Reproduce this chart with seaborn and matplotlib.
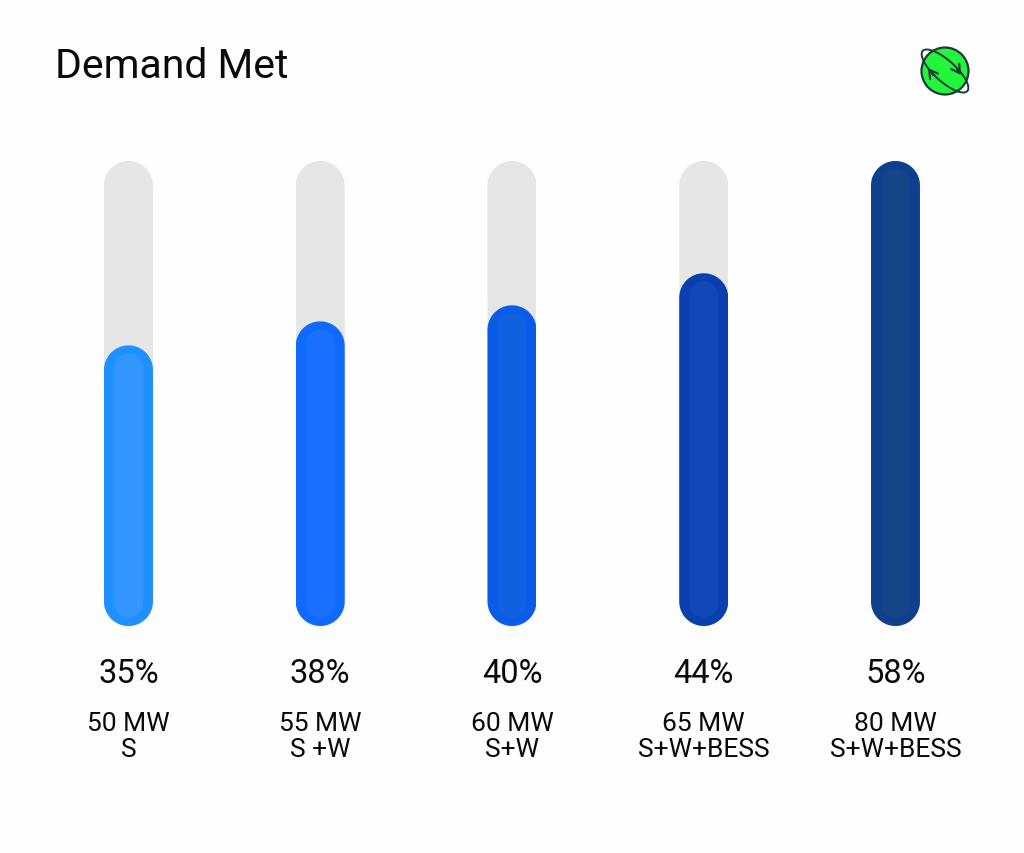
import numpy as np
import pandas as pd
import matplotlib
matplotlib.use("Agg")
import matplotlib.pyplot as plt
from matplotlib.patches import Circle, Ellipse, Polygon
import seaborn as sns

capacity = ["50 MW", "55 MW", "60 MW", "65 MW", "80 MW"]
sources = ["S", "S +W", "S+W", "S+W+BESS", "S+W+BESS"]
demand_met = [35, 38, 40, 44, 58]
track_max = 58

edge_colors = ["#1E90FF", "#0F6BFF", "#0A5CE8", "#0A3FB0", "#0F3F8F"]
fill_colors = ["#3396FF", "#1A70FF", "#1060E0", "#1048B8", "#164488"]

labels = [f"{c}\n{s}" for c, s in zip(capacity, sources)]
df = pd.DataFrame({"label": labels, "met": demand_met})

sns.set_style("white")
plt.rcParams["font.family"] = ["Roboto", "DejaVu Sans"]

W, H = 1024, 854
fig = plt.figure(figsize=(W / 100, H / 100), dpi=100, facecolor="#FEFEFE")
# one category = 191.75 px, track runs from y=161 to y=626
ax = fig.add_axes([32.6 / W, (H - 627) / H, 958.75 / W, 465 / H], facecolor="none")

BAR_W = 49 / 191.75
sns.barplot(x=labels, y=[track_max] * 5, color="#E6E6E6", saturation=1, width=BAR_W, ax=ax)
n_track = len(ax.patches)
sns.barplot(data=df, x="label", y="met", hue="label", palette=edge_colors, saturation=1,
            width=BAR_W, legend=False, ax=ax)

ax.set_xlim(-0.5, 4.5)
ax.set_ylim(0, track_max)
ax.set_xlabel("")
ax.set_ylabel("")
ax.set_yticks([])
sns.despine(ax=ax, left=True, bottom=True)

x_per_px = 5 / 958.75
y_per_px = track_max / 465


def pill(x0, x1, y0, y1):
    # outline with round ends, radius is half the width in pixels
    r = (x1 - x0) / 2
    ry = r / x_per_px * y_per_px
    t = np.linspace(0, np.pi, 40)
    xs = (x0 + x1) / 2 + r * np.cos(t)
    top = y1 - ry + ry * np.sin(t)
    bottom = y0 + ry - ry * np.sin(t)
    return np.r_[np.c_[xs, top], np.c_[xs[::-1], bottom[::-1]]]


for i, bar in enumerate(ax.patches):
    x0, x1 = bar.get_x(), bar.get_x() + bar.get_width()
    y0, y1 = bar.get_y(), bar.get_y() + bar.get_height()
    clip = Polygon(pill(x0, x1, y0, y1), transform=ax.transData)
    bar.set_clip_path(clip)
    bar.set_linewidth(0)
    if i >= n_track:
        j = i - n_track
        inner = Polygon(pill(x0 + 10 * x_per_px, x1 - 10 * x_per_px, y0 + 8 * y_per_px, y1 - 8 * y_per_px),
                        facecolor=fill_colors[j], edgecolor="none", zorder=bar.get_zorder() + 0.1)
        ax.add_patch(inner)

ax.tick_params(axis="x", length=0, pad=61, labelsize=19, labelcolor="#0A0A0A")
for lab in ax.get_xticklabels():
    lab.set_linespacing(1.1)

for i, v in enumerate(demand_met):
    ax.annotate(f"{v}%", xy=(i, 0), xytext=(0, -47 * 0.72), textcoords="offset points",
                ha="center", va="center", fontsize=23.5, color="#0A0A0A")

fig.text(55 / W, 1 - 66 / H, "Demand Met", fontsize=29.5, color="#0A0A0A", va="center", ha="left")

# small globe icon, top right
icon = fig.add_axes([910 / W, 1 - 107 / H, 68 / W, 68 / H])
icon.set_xlim(0, 68)
icon.set_ylim(68, 0)
icon.axis("off")
cx, cy = 35, 33
dark = "#1F3A3A"
icon.add_patch(Circle((cx, cy), 23.5, fc="#22F53A", ec=dark, lw=1.6, zorder=2))
icon.add_patch(Ellipse((cx, cy), 60, 21, angle=42, fill=False, ec=dark, lw=1.4, zorder=3))
arrow = dict(arrowstyle="->,head_length=0.6,head_width=0.35", color=dark, lw=1.5, shrinkA=0, shrinkB=0)
icon.annotate("", xy=(51, 37), xytext=(47, 31), zorder=4, arrowprops=arrow)
icon.annotate("", xy=(18, 30), xytext=(23, 37), zorder=4, arrowprops=arrow)

fig.savefig("out.png", dpi=100, facecolor=fig.get_facecolor())
